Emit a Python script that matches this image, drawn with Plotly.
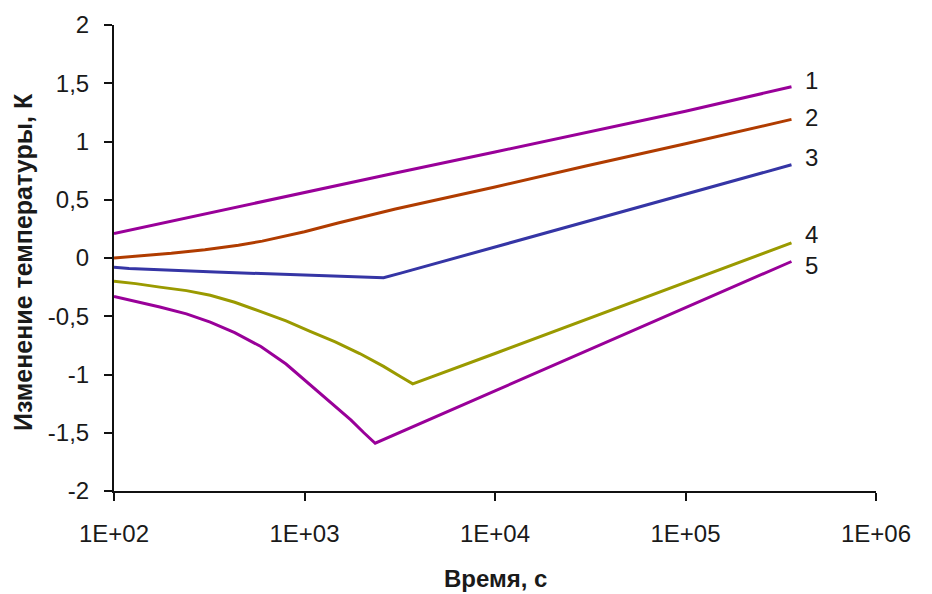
import math
import plotly.graph_objects as go

# ---- data ----
t1 = [100, 300, 1000, 3000, 10000, 30000, 100000, 360000]
y1 = [0.21, 0.38, 0.56, 0.73, 0.91, 1.08, 1.26, 1.47]

t2 = [100, 150, 200, 300, 450, 600, 800, 1000, 1500, 3000, 10000, 30000, 100000, 360000]
y2 = [0.00, 0.02, 0.04, 0.07, 0.11, 0.145, 0.19, 0.225, 0.30, 0.42, 0.61, 0.79, 0.98, 1.19]

t3 = [100, 120, 340, 740, 1300, 2000, 2600, 3200, 10000, 100000, 360000]
y3 = [-0.08, -0.09, -0.12, -0.14, -0.15, -0.165, -0.17, -0.13, 0.095, 0.545, 0.80]

t4 = [100, 130, 174, 240, 320, 430, 590, 800, 1070, 1450, 1950, 2600, 3200, 3700, 10000, 100000, 360000]
y4 = [-0.20, -0.22, -0.25, -0.28, -0.32, -0.38, -0.46, -0.54, -0.63, -0.72, -0.82, -0.93, -1.02, -1.08, -0.82, -0.21, 0.13]

t5 = [100, 130, 174, 240, 320, 430, 590, 800, 1070, 1450, 1750, 2050, 2350, 10000, 100000, 360000]
y5 = [-0.33, -0.37, -0.42, -0.48, -0.55, -0.64, -0.76, -0.91, -1.09, -1.27, -1.39, -1.50, -1.59, -1.14, -0.43, -0.03]

series_names = ["1", "2", "3", "4", "5"]
colors = ["#990099", "#B03C00", "#3535A5", "#9A9A00", "#990099"]
label_yshift = [6, 2, 7, 8, -4]

x_tickvals = [1e2, 1e3, 1e4, 1e5, 1e6]
x_ticktext = ["1E+02", "1E+03", "1E+04", "1E+05", "1E+06"]
y_tickvals = [-2, -1.5, -1, -0.5, 0, 0.5, 1, 1.5, 2]
y_ticktext = ["-2", "-1,5", "-1", "-0,5", "0", "0,5", "1", "1,5", "2"]

x_title = "Время, с"
y_title = "Изменение температуры, К"

FONT = "Liberation Sans, Arial, sans-serif"
TXT = "#1a1a1a"

fig = go.Figure()
all_t = [t1, t2, t3, t4, t5]
all_y = [y1, y2, y3, y4, y5]
for name, t, y, c in zip(series_names, all_t, all_y, colors):
    fig.add_trace(go.Scatter(x=t, y=y, mode="lines", name=name,
                             line=dict(color=c, width=3), showlegend=False))

annotations = []
for name, t, y, ys in zip(series_names, all_t, all_y, label_yshift):
    # annotations on a log axis take log10 of the data value
    annotations.append(dict(x=math.log10(t[-1]), y=y[-1], xref="x", yref="y", text=name,
                            showarrow=False, xanchor="left", yanchor="middle",
                            xshift=12, yshift=ys,
                            font=dict(family=FONT, size=24, color=TXT)))
annotations.append(dict(x=0.5, y=0, xref="paper", yref="paper", text="<b>" + x_title + "</b>",
                        showarrow=False, xanchor="center", yanchor="middle", yshift=-87,
                        font=dict(family=FONT, size=24, color=TXT)))
annotations.append(dict(x=0, y=0.5, xref="paper", yref="paper", text="<b>" + y_title + "</b>",
                        showarrow=False, xanchor="center", yanchor="middle", xshift=-91, yshift=-4,
                        textangle=-90, font=dict(family=FONT, size=25, color=TXT)))

fig.update_layout(
    width=932, height=594,
    margin=dict(l=114, r=56, t=25, b=103),
    paper_bgcolor="white", plot_bgcolor="white",
    font=dict(family=FONT, size=24, color=TXT),
    annotations=annotations,
)
fig.update_xaxes(type="log", range=[2, 6], tickvals=x_tickvals, ticktext=x_ticktext,
                 showgrid=False, zeroline=False, showline=True, linecolor="#111", linewidth=2,
                 ticks="outside", ticklen=8, tickwidth=2, tickcolor="#111",
                 ticklabelstandoff=12, tickfont=dict(family=FONT, size=24, color=TXT))
fig.update_yaxes(range=[-2, 2], tickvals=y_tickvals, ticktext=y_ticktext,
                 showgrid=False, zeroline=False, showline=True, linecolor="#111", linewidth=2,
                 ticks="outside", ticklen=8, tickwidth=2, tickcolor="#111",
                 ticklabelstandoff=10, tickfont=dict(family=FONT, size=24, color=TXT))

fig.write_html("out.html")
